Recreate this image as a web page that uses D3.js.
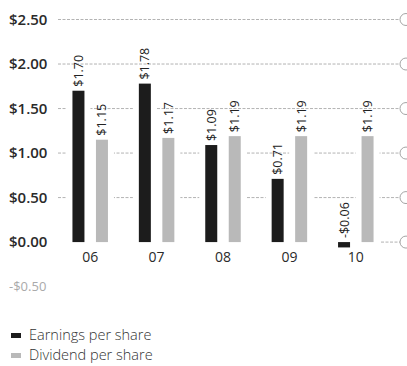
<!DOCTYPE html>
<html><head><meta charset="utf-8">
<script src="https://cdn.jsdelivr.net/npm/d3@7"></script>
<style>
html,body{margin:0;padding:0;background:#fff;}
svg{display:block;font-family:"Open Sans","Noto Sans",sans-serif;}
</style></head>
<body><svg id="c" width="407" height="366"></svg>
<script>
const categories = ["06","07","08","09","10"];
const earnings = [1.70, 1.78, 1.09, 0.71, -0.06];
const dividends = [1.15, 1.17, 1.19, 1.19, 1.19];
const earningLabels = ["$1.70","$1.78","$1.09","$0.71","-$0.06"];
const dividendLabels = ["$1.15","$1.17","$1.19","$1.19","$1.19"];
const yTicks = [2.5, 2.0, 1.5, 1.0, 0.5, 0.0];
const yTickLabels = ["$2.50","$2.00","$1.50","$1.00","$0.50","$0.00"];
const negTick = -0.5, negTickLabel = "-$0.50";
const legendLabels = ["Earnings per share","Dividend per share"];

const svg = d3.select("#c");
const y = d3.scaleLinear().domain([-0.5, 2.5]).range([286.6, 19.5]);
const x = d3.scaleBand().domain(categories).range([57, 389]).padding(0);
const barW = 12, off = 11.75;
const cE = "#1c1c1c", cD = "#b9b9b9";

// gridlines
const gx0 = 58, gx1 = 400;
const grid = svg.append("g");
yTicks.forEach(v => {
  const start = v === 0 ? x(categories[categories.length-1]) + x.bandwidth() - 8 : gx0;
  grid.append("line").attr("x1", start).attr("x2", gx1).attr("y1", y(v)).attr("y2", y(v))
    .attr("stroke", "#a0a0a0").attr("stroke-width", 0.8).attr("stroke-dasharray", "3,1.5");
  grid.append("circle").attr("cx", 406).attr("cy", y(v)).attr("r", 6)
    .attr("fill", "#fff").attr("stroke", "#9a9a9a").attr("stroke-width", 0.9);
});

// y labels
svg.append("g").selectAll("text").data(yTicks).join("text")
  .attr("x", 9).attr("y", d => y(d)).attr("dy", "0.36em")
  .attr("font-size", 15).attr("font-weight", 600).attr("fill", "#2a2a2a")
  .text((d,i) => yTickLabels[i]);
svg.append("text").attr("x", 9).attr("y", y(negTick)).attr("dy", "0.36em")
  .attr("font-size", 13).attr("fill", "#aaaaaa").text(negTickLabel);

// bars (white halo first, then fills)
const bars = svg.append("g");
function drawBars(vals, dx, color, halo) {
  bars.selectAll(null).data(vals).join("rect")
    .attr("x", (d,i) => x(categories[i]) + x.bandwidth()/2 + dx - barW/2)
    .attr("y", d => y(Math.max(0, d)))
    .attr("width", barW)
    .attr("height", d => Math.abs(y(d) - y(0)))
    .attr("fill", color)
    .attr("stroke", halo ? "#fff" : "none").attr("stroke-width", halo ? 12 : 0);
}
drawBars(earnings, -off, "#fff", true);
drawBars(dividends, off, "#fff", true);
drawBars(earnings, -off, cE, false);
drawBars(dividends, off, cD, false);

// value labels
function drawLabels(vals, labels, dx) {
  svg.append("g").selectAll("text").data(vals).join("text")
    .attr("transform", (d,i) => {
      const cx = x(categories[i]) + x.bandwidth()/2 + dx;
      const top = y(Math.max(0, d)) - 4;
      return `translate(${cx},${top}) rotate(-90)`;
    })
    .attr("dy", "0.36em").attr("font-size", 12.5).attr("fill", "#222")
    .text((d,i) => labels[i]);
}
drawLabels(earnings, earningLabels, -off);
drawLabels(dividends, dividendLabels, off);

// x labels
svg.append("g").selectAll("text").data(categories).join("text")
  .attr("x", d => x(d) + x.bandwidth()/2).attr("y", 262)
  .attr("text-anchor", "middle").attr("font-size", 14).attr("fill", "#2a2a2a")
  .text(d => d);

// legend
const leg = svg.append("g");
[[cE, 333], [cD, 353]].forEach(([c, yy], i) => {
  leg.append("rect").attr("x", 11).attr("y", yy).attr("width", 10).attr("height", 5).attr("fill", c);
  leg.append("text").attr("x", 29).attr("y", yy + 7).attr("font-size", 14.5)
    .attr("font-weight", 300).attr("fill", "#333").text(legendLabels[i]);
});
</script></body></html>
